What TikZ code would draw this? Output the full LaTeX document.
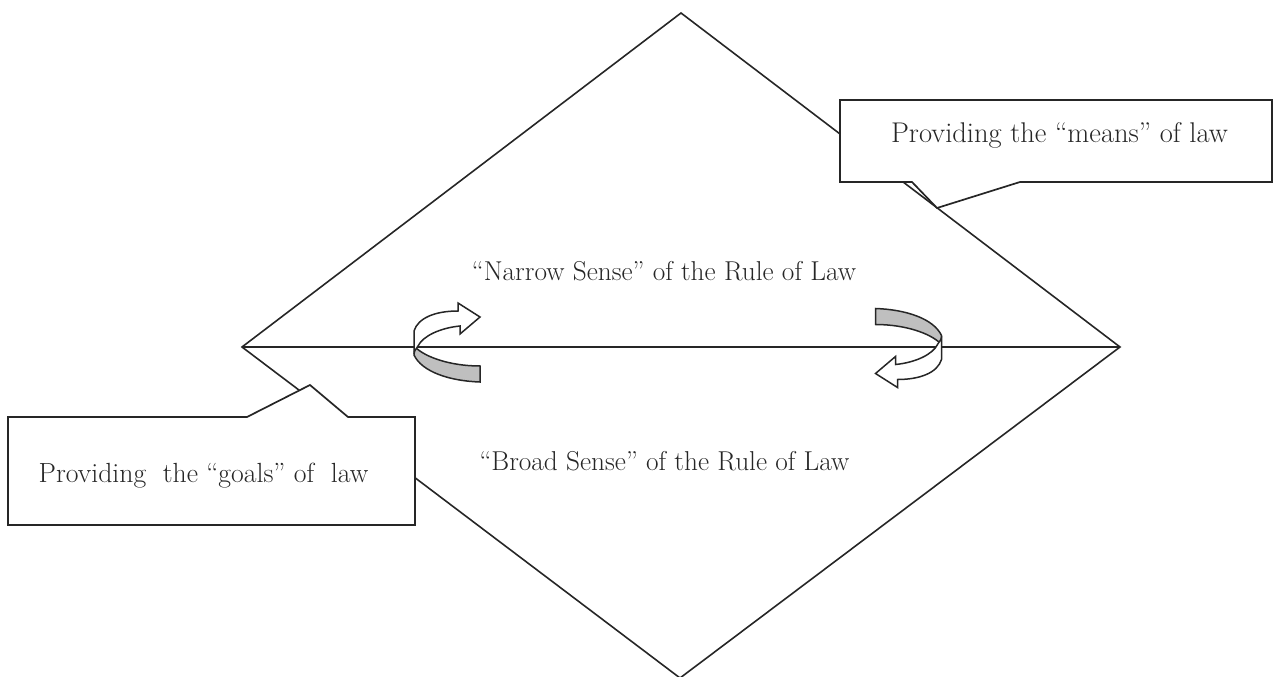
\documentclass[tikz,border=0pt]{standalone}
\newcommand\myribbon{%
  \draw[ribback] (415,347) .. controls (425,357) and (450,366) .. (480,366) -- (480,382) .. controls (450,381) and (422,372) .. (414,355) -- cycle;
  \draw[ribfront] (414,352) -- (414,331) .. controls (418,318) and (435,311) .. (458,311) -- (458,303) -- (480,317) -- (460,334) -- (460,326) .. controls (440,328) and (423,336) .. (418,346) -- cycle;
}
\begin{document}
\begin{tikzpicture}[x=1pt,y=-1pt, line join=miter,
  edge/.style={line width=1.6pt, draw=black!85},
  callout/.style={line width=1.7pt, draw=black!85, fill=white},
  lbl/.style={anchor=base, inner sep=0pt, font=\fontsize{27.3}{32}\selectfont, text=black!85},
  clbl/.style={anchor=base, inner sep=0pt, font=\fontsize{28.5}{33}\selectfont, text=black!85},
  ribfront/.style={line width=1.5pt, draw=black!85, fill=white},
  ribback/.style={line width=1.5pt, draw=black!85, fill=black!25}]
\useasboundingbox (0,0) rectangle (1274,677);
\coordinate (top) at (681,13);
\coordinate (left) at (242,347);
\coordinate (right) at (1120,347);
\coordinate (bottom) at (680,678);
\draw[edge] (top) -- (right) -- (bottom) -- (left) -- cycle;
\draw[edge] (left) -- (right);
\myribbon
\begin{scope}[shift={(1355.5,690.5)}, xscale=-1, yscale=-1]
\myribbon
\end{scope}
\draw[callout] (840,100) -- (1272,100) -- (1272,182) -- (1020,182) -- (937,208) -- (912,182) -- (840,182) -- cycle;
\draw[callout] (8,417) -- (247,417) -- (310,385) -- (348,417) -- (415,417) -- (415,525) -- (8,525) -- cycle;
\node[clbl] (means) at (1059.5,142) {Providing the ``means'' of law};
\node[clbl, font=\fontsize{27.7}{32}\selectfont] (goals) at (203.5,482) {Providing\hspace{0.3em} the ``goals'' of\hspace{0.3em} law};
\node[lbl] (narrow) at (664,280) {``Narrow Sense'' of the Rule of Law};
\node[lbl] (broad) at (664.5,470) {``Broad Sense'' of the Rule of Law};
\end{tikzpicture}
\end{document}
